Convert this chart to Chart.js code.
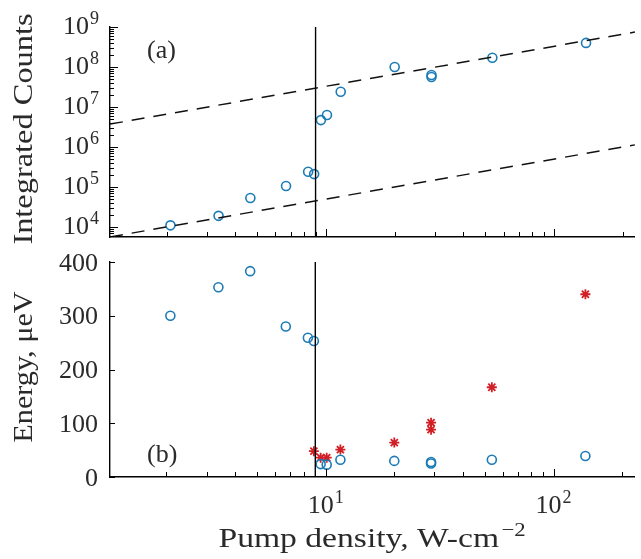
<!DOCTYPE html>
<html>
<head>
<meta charset="utf-8">
<script src="https://cdn.jsdelivr.net/npm/chart.js@4.4.0/dist/chart.umd.min.js"></script>
<style>
  html, body { margin: 0; padding: 0; background: #fff; }
  #wrap { width: 641px; height: 559px; position: relative; }
  #topBox { position: absolute; left: 0; top: 0; width: 641px; height: 250px; z-index: 2; }
  #botBox { position: absolute; left: 0; top: 240px; width: 641px; height: 319px; z-index: 1; }
</style>
</head>
<body>
<div id="wrap">
  <div id="topBox"><canvas id="countsChart"></canvas></div>
  <div id="botBox"><canvas id="energyChart"></canvas></div>
</div>
<script>
// pump density for every measurement, W/cm^2
const pump = [2.08, 3.38, 4.66, 6.68, 8.35, 8.87, 9.5, 10.1, 11.6, 20, 29, 29, 53.6, 138];
// (a) integrated counts
const counts = [1.1e4, 1.9e4, 5.3e4, 1.06e5, 2.4e5, 2.1e5, 4.7e6, 6.3e6, 2.4e7, 1e8, 5.6e7, 6.3e7, 1.7e8, 4e8];
// (b) energies, ueV
const energyCircle = [300, 353, 383, 280, 259, 253, 24, 23, 32, 30, 25, 28, 32, 39];
const pumpStar = [8.87, 9.5, 10.1, 11.6, 20, 29, 29, 53.6, 138];
const energyStar = [48, 36, 36, 51, 64, 101, 88, 167, 340];
// threshold and linear guides (slope 1 on log-log)
const threshold = 9;
const fitX = [1.13, 226];
const fitHigh = [3.73e6, 7.46e8];
const fitLow = [5.65e3, 1.13e6];
// axis limits and ticks
const xMin = 1.13, xMax = 226;
const countMin = 5623, countMax = 1e9;
const countTicks = [1e4, 1e5, 1e6, 1e7, 1e8, 1e9];
const xLabelTicks = [10, 100];
const energyTicks = [0, 100, 200, 300, 400];

const blue = '#1b7bb6';
const red = '#d21f26';
const ink = '#2a2a2a';
const serif = "'Liberation Serif', 'DejaVu Serif', serif";

Chart.defaults.font.family = serif;
Chart.defaults.animation = false;

// text with optional raised exponent, stretched along its own direction
function drawText(ctx, str, x, y, o) {
  const size = o.size || 26, sx = o.sx || 1;
  const exp = o.exp || '', expSize = o.expSize || 18, rise = o.rise || 10, gap = o.gap || 1;
  ctx.save();
  ctx.translate(x, y);
  if (o.rot) ctx.rotate(o.rot);
  ctx.scale(sx, 1);
  ctx.fillStyle = ink;
  ctx.textAlign = 'left';
  ctx.textBaseline = 'alphabetic';
  ctx.font = size + 'px ' + serif;
  const w1 = ctx.measureText(str).width;
  ctx.font = expSize + 'px ' + serif;
  const w2 = exp ? ctx.measureText(exp).width + gap : 0;
  const total = w1 + w2;
  let x0 = 0;
  if (o.align === 'right') x0 = -total;
  if (o.align === 'center') x0 = -total / 2;
  ctx.font = size + 'px ' + serif;
  ctx.fillText(str, x0, 0);
  if (exp) {
    ctx.font = expSize + 'px ' + serif;
    ctx.fillText(exp, x0 + w1 + gap, -rise);
  }
  ctx.restore();
}

// inward tick marks, tick labels, axis titles and panel letter
const axisDeco = {
  id: 'axisDeco',
  afterDraw(chart, args, opts) {
    const ctx = chart.ctx, a = chart.chartArea;
    const x = chart.scales.x, y = chart.scales.y;
    ctx.save();
    ctx.strokeStyle = '#000';
    ctx.lineWidth = 1;
    ctx.beginPath();
    for (let d = 0; d <= 2; d++) {
      for (let k = 1; k <= 9; k++) {
        const v = k * Math.pow(10, d);
        if (v < x.min || v > x.max) continue;
        const px = Math.round(x.getPixelForValue(v)) + 0.5;
        const len = k === 1 ? 8 : 5;
        ctx.moveTo(px, a.bottom);
        ctx.lineTo(px, a.bottom - len);
      }
    }
    if (y.type === 'logarithmic') {
      for (let d = 3; d <= 9; d++) {
        for (let k = 1; k <= 9; k++) {
          const v = k * Math.pow(10, d);
          if (v < y.min || v > y.max) continue;
          const py = Math.round(y.getPixelForValue(v)) + 0.5;
          const len = k === 1 ? 8 : 4;
          ctx.moveTo(a.left, py);
          ctx.lineTo(a.left + len, py);
        }
      }
    } else {
      energyTicks.forEach(v => {
        const py = Math.round(y.getPixelForValue(v)) + 0.5;
        ctx.moveTo(a.left, py);
        ctx.lineTo(a.left + 5, py);
      });
    }
    ctx.stroke();
    ctx.restore();

    // y tick labels
    if (y.type === 'logarithmic') {
      countTicks.forEach(v => {
        drawText(ctx, '10', 99, y.getPixelForValue(v) + 7, { align: 'right', exp: String(Math.round(Math.log10(v))), expSize: 18, rise: 10 });
      });
    } else {
      energyTicks.forEach(v => {
        drawText(ctx, String(v), 98, y.getPixelForValue(v) + 8.5, { align: 'right' });
      });
    }
    // x tick labels + title on the lower panel only
    if (opts.xLabels) {
      xLabelTicks.forEach(v => {
        drawText(ctx, '10', x.getPixelForValue(v), a.bottom + 36, { align: 'center', exp: String(Math.round(Math.log10(v))), expSize: 18, rise: 10 });
      });
      drawText(ctx, 'Pump density, W-cm', (a.left + a.right) / 2, a.bottom + 70, { align: 'center', size: 28, sx: 1.2, exp: '−2', expSize: 19, rise: 11, gap: 2 });
    }
    drawText(ctx, opts.yTitle, 32, opts.yTitleMid, { align: 'center', size: 27, sx: opts.yTitleSx, rot: -Math.PI / 2 });
    drawText(ctx, opts.label, 147, opts.ly, { size: 26 });
  }
};

const xScale = (h) => ({
  type: 'logarithmic',
  min: xMin,
  max: xMax,
  afterFit: s => { s.height = h; },
  grid: { drawOnChartArea: false, drawTicks: false },
  border: { display: true, color: '#000', width: 1.4 },
  ticks: { display: false }
});

const yBase = {
  afterFit: s => { s.width = 110; },
  grid: { drawOnChartArea: false, drawTicks: false },
  border: { display: true, color: '#000', width: 1.4 },
  ticks: { display: false }
};

// (a) integrated counts
new Chart(document.getElementById('countsChart'), {
  type: 'scatter',
  data: {
    datasets: [
      { data: fitX.map((v, i) => ({ x: v, y: fitHigh[i] })), showLine: true, borderColor: '#111', borderWidth: 1.5, borderDash: [13, 9], pointRadius: 0 },
      { data: fitX.map((v, i) => ({ x: v, y: fitLow[i] })), showLine: true, borderColor: '#111', borderWidth: 1.5, borderDash: [13, 9], pointRadius: 0 },
      { data: [{ x: threshold, y: countMin }, { x: threshold, y: countMax }], showLine: true, borderColor: '#000', borderWidth: 1.4, pointRadius: 0 },
      { data: pump.map((v, i) => ({ x: v, y: counts[i] })), pointStyle: 'circle', pointRadius: 4.5, borderColor: blue, backgroundColor: 'rgba(0,0,0,0)', pointBorderWidth: 1.6 }
    ]
  },
  options: {
    responsive: true,
    maintainAspectRatio: false,
    layout: { padding: { top: 27, right: 4, left: 0, bottom: 0 } },
    plugins: {
      legend: { display: false },
      tooltip: { enabled: false },
      axisDeco: { label: '(a)', ly: 58, yTitle: 'Integrated Counts', yTitleMid: 129, yTitleSx: 1.2, xLabels: false }
    },
    scales: {
      x: xScale(13),
      y: Object.assign({ type: 'logarithmic', min: countMin, max: countMax }, yBase)
    }
  },
  plugins: [axisDeco]
});

// (b) energies
new Chart(document.getElementById('energyChart'), {
  type: 'scatter',
  data: {
    datasets: [
      { data: [{ x: threshold, y: 0 }, { x: threshold, y: 400 }], showLine: true, borderColor: '#000', borderWidth: 1.4, pointRadius: 0 },
      { data: pump.map((v, i) => ({ x: v, y: energyCircle[i] })), pointStyle: 'circle', pointRadius: 4.5, borderColor: blue, backgroundColor: 'rgba(0,0,0,0)', pointBorderWidth: 1.6 },
      { data: pumpStar.map((v, i) => ({ x: v, y: energyStar[i] })), pointStyle: 'star', pointRadius: 5, borderColor: red, backgroundColor: red, pointBorderWidth: 1.8 }
    ]
  },
  options: {
    responsive: true,
    maintainAspectRatio: false,
    layout: { padding: { top: 22, right: 4, left: 0, bottom: 0 } },
    plugins: {
      legend: { display: false },
      tooltip: { enabled: false },
      axisDeco: { label: '(b)', ly: 222, yTitle: 'Energy, μeV', yTitleMid: 127, yTitleSx: 1.12, xLabels: true }
    },
    scales: {
      x: xScale(82),
      y: Object.assign({ type: 'linear', min: 0, max: 400 }, yBase)
    }
  },
  plugins: [axisDeco]
});
</script>
</body>
</html>
